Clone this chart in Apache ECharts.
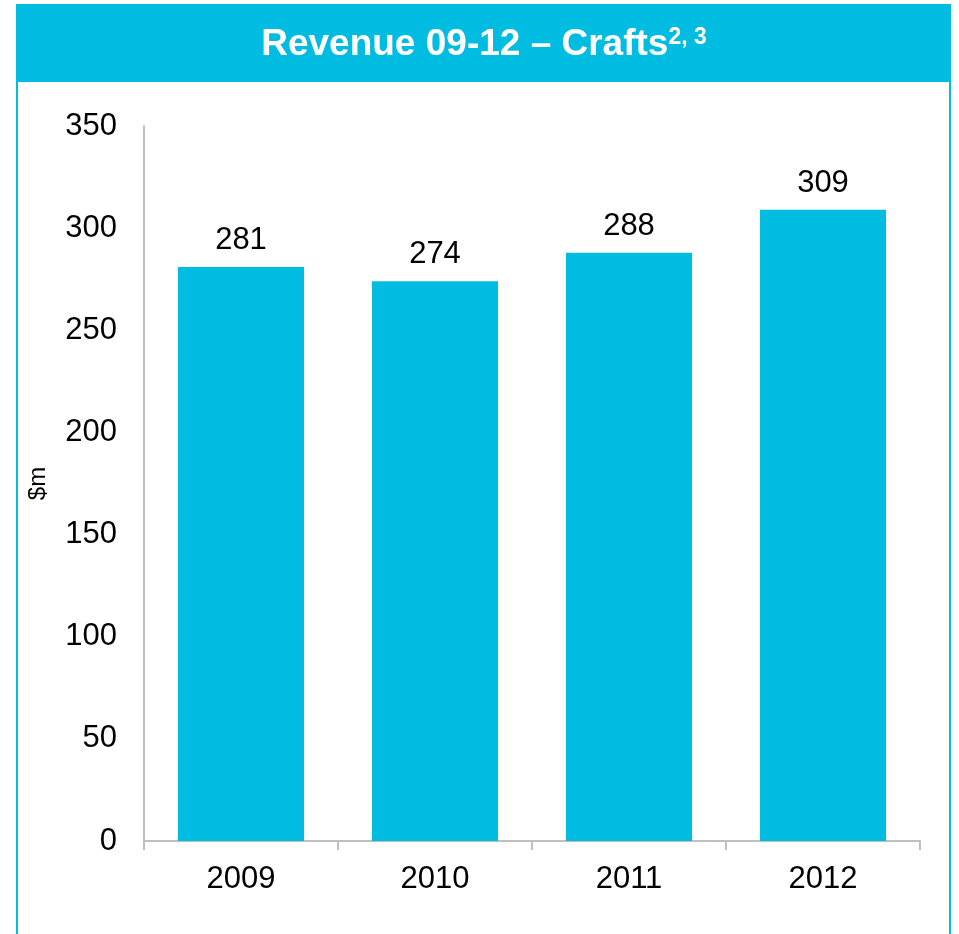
<!DOCTYPE html>
<html>
<head>
<meta charset="utf-8">
<title>Revenue 09-12 – Crafts</title>
<script src="https://cdn.jsdelivr.net/npm/echarts@6/dist/echarts.min.js"></script>
<style>
  html, body { margin: 0; padding: 0; background: #ffffff; }
  #chart { width: 959px; height: 934px; }
</style>
</head>
<body>
<div id="chart"></div>
<script>
// Revenue by year, $m
const years = ['2009', '2010', '2011', '2012'];
const revenue = [281, 274, 288, 309];
const yTicks = { min: 0, max: 350, step: 50 };

const brand = '#00BCE1';
const axisGrey = '#BFBFBF';
const font = '"Liberation Sans", Arial, sans-serif';

const chart = echarts.init(document.getElementById('chart'), null, { renderer: 'canvas' });

chart.setOption({
  animation: false,
  backgroundColor: '#ffffff',
  textStyle: { fontFamily: font },
  graphic: [
    // panel frame
    {
      type: 'rect', silent: true, z: 0,
      shape: { x: 17, y: 5, width: 933, height: 960 },
      style: { fill: 'none', stroke: brand, lineWidth: 2 }
    },
    // header band
    {
      type: 'rect', silent: true, z: 1,
      shape: { x: 16, y: 4, width: 935, height: 78 },
      style: { fill: brand }
    },
    {
      type: 'text', silent: true, z: 2,
      x: 484, y: 45,
      style: {
        text: '{a|Revenue 09-12 – Crafts}{s|2, 3}',
        align: 'center',
        verticalAlign: 'middle',
        rich: {
          a: { fontFamily: font, fontSize: 37, fontWeight: 'bold', fill: '#ffffff', color: '#ffffff' },
          s: { fontFamily: font, fontSize: 23, fontWeight: 'bold', fill: '#ffffff', color: '#ffffff',
               verticalAlign: 'top', padding: [0, 0, 12, 0] }
        }
      }
    }
  ],
  grid: { left: 144, right: 39, top: 126, bottom: 93, containLabel: false },
  xAxis: {
    type: 'category',
    data: years,
    axisLine: { show: true, lineStyle: { color: axisGrey, width: 2 } },
    axisTick: { show: true, length: 9, lineStyle: { color: axisGrey, width: 2 } },
    axisLabel: { color: '#000000', fontSize: 31, fontFamily: font, margin: 23 }
  },
  yAxis: {
    type: 'value',
    min: yTicks.min,
    max: yTicks.max,
    interval: yTicks.step,
    name: '$m',
    nameLocation: 'middle',
    nameRotate: 90,
    nameGap: 94,
    nameTextStyle: { color: '#000000', fontSize: 24, fontFamily: font },
    axisLine: { show: true, lineStyle: { color: axisGrey, width: 2 } },
    axisTick: { show: false },
    splitLine: { show: false },
    axisLabel: { color: '#000000', fontSize: 31, fontFamily: font, margin: 27 }
  },
  series: [{
    type: 'bar',
    data: revenue,
    barCategoryGap: '35%',
    itemStyle: { color: brand },
    label: {
      show: true,
      position: 'top',
      distance: 11,
      color: '#000000',
      fontSize: 31,
      fontFamily: font
    }
  }]
});
</script>
</body>
</html>
